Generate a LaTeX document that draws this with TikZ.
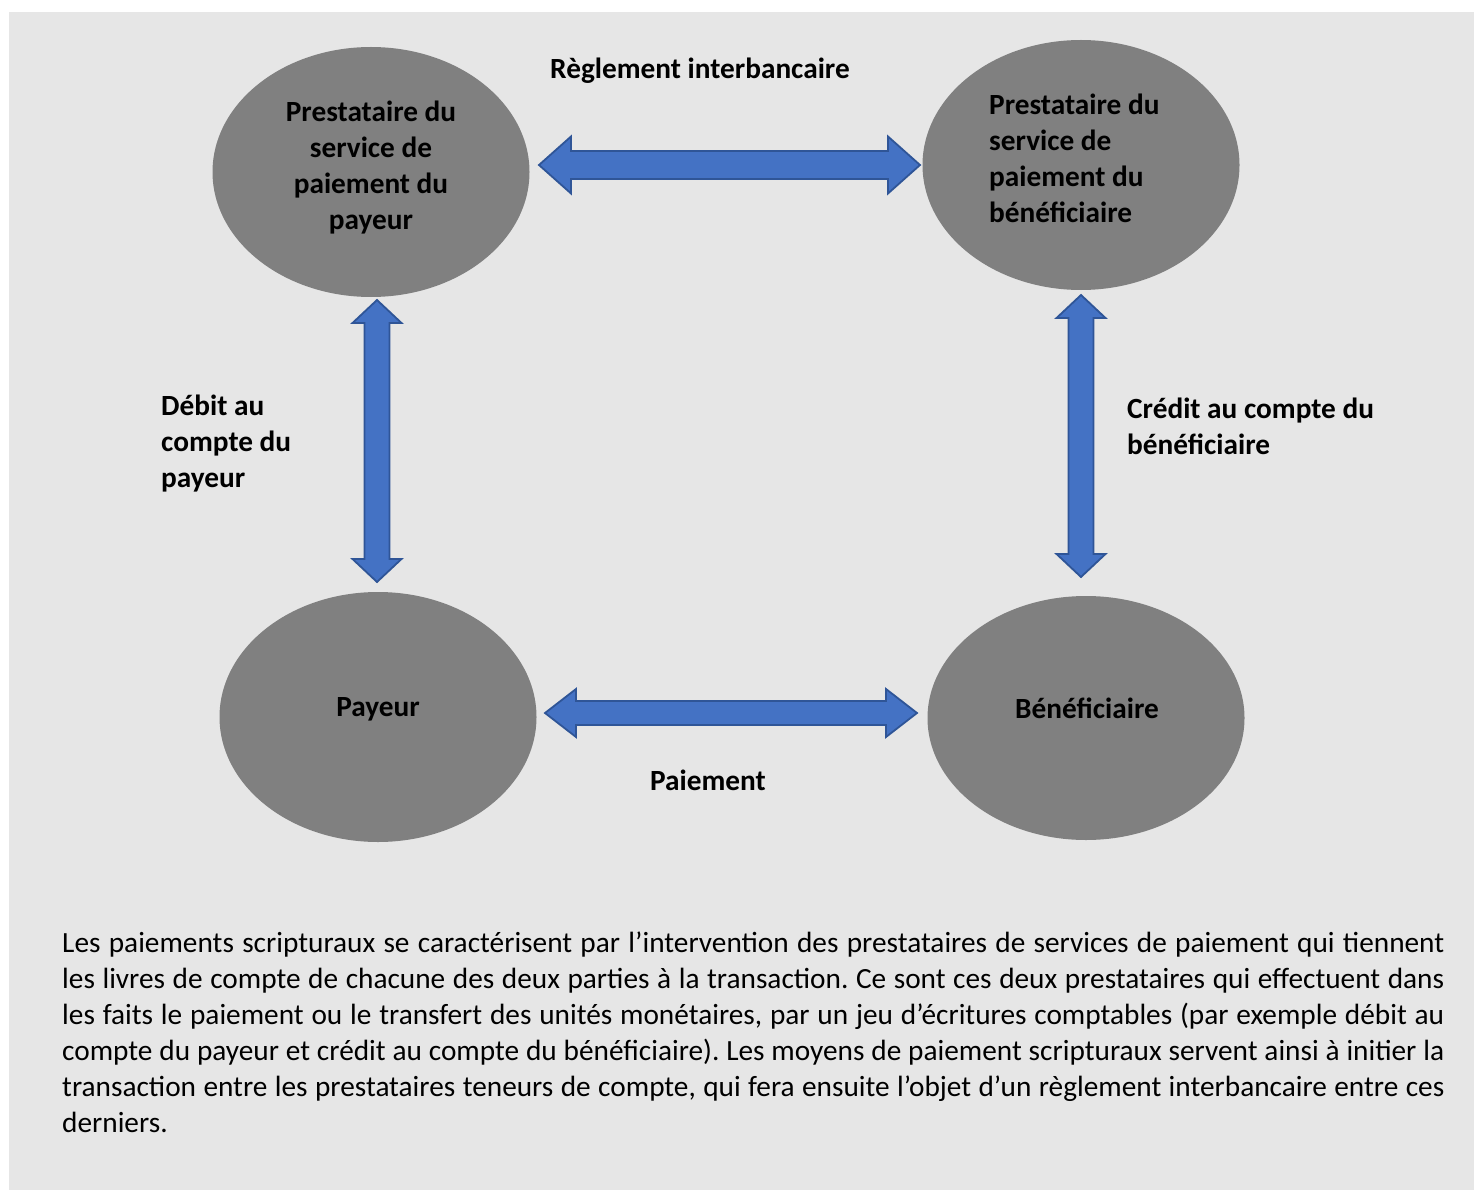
\documentclass[tikz,border=0pt]{standalone}
\usepackage{fontspec}
\setmainfont{Carlito}
\usetikzlibrary{shapes.geometric,calc}
\definecolor{bggray}{RGB}{230,230,230}
\definecolor{ellgray}{RGB}{128,128,128}
\definecolor{arrfill}{RGB}{68,114,196}
\definecolor{arrdraw}{RGB}{47,85,151}
\tikzset{
  actor/.style={ellipse, fill=ellgray, draw=none, inner sep=0pt, minimum width=317pt, minimum height=250pt},
  blockarr/.style={fill=arrfill, draw=arrdraw, line width=1.8pt, line join=miter},
  lbl/.style={font=\fontsize{29.3}{36}\selectfont\bfseries, inner sep=0pt, text=black},
  bodytext/.style={font=\fontsize{29.3}{36}\selectfont\frenchspacing, inner sep=0pt, text width=1382pt, align=justify, anchor=north west}
}
% horizontal double block arrow: #1 left tip, #2 right tip, #3 head length, #4 half head, #5 half shaft
\newcommand\hblockarrow[5]{%
  \draw[blockarr] (#1) -- ++(#3,-#4) -- ++(0,#4-#5) -- ($(#2)+(-#3,-#5)$) -- ++(0,#5-#4) -- (#2)
    -- ++(-#3,#4) -- ++(0,#5-#4) -- ($(#1)+(#3,#5)$) -- ++(0,#4-#5) -- cycle;}
% vertical double block arrow: #1 top tip, #2 bottom tip
\newcommand\vblockarrow[5]{%
  \draw[blockarr] (#1) -- ++(#4,#3) -- ++(#5-#4,0) -- ($(#2)+(#5,-#3)$) -- ++(#4-#5,0) -- (#2)
    -- ++(-#4,-#3) -- ++(#4-#5,0) -- ($(#1)+(-#5,#3)$) -- ++(#5-#4,0) -- cycle;}
\begin{document}
\begin{tikzpicture}[x=1pt,y=-1pt]
\useasboundingbox (0,0) rectangle (1474,1190);
\fill[white] (0,0) rectangle (1474,1190);
\fill[bggray] (9,12) rectangle (1474,1190);
% ellipses
\node[actor] (psp1) at (371,172) {};
\node[actor] (psp2) at (1081,165) {};
\node[actor] (payeur) at (378,717) {};
\node[actor, minimum height=244pt] (benef) at (1086,718) {};
% ellipse texts
\node[lbl, align=center] (t1) at (371,168) {Prestataire du\\service de\\paiement du\\payeur};
\node[lbl, align=left, anchor=west] (t2) at (989,158) {Prestataire du\\service de\\paiement du\\bénéficiaire};
\node[lbl] (t3) at (378,709) {Payeur};
\node[lbl] (t4) at (1087,708) {Bénéficiaire};
% arrows
\coordinate (ha) at (539,165);
\coordinate (hb) at (920,165);
\coordinate (pa) at (545,713);
\coordinate (pb) at (917,713);
\coordinate (va) at (377,300);
\coordinate (vb) at (377,582);
\coordinate (wa) at (1081,295);
\coordinate (wb) at (1081,577);
\hblockarrow{ha}{hb}{32}{28.5}{14}
\hblockarrow{pa}{pb}{31}{24}{12}
\vblockarrow{va}{vb}{23}{24.5}{12.5}
\vblockarrow{wa}{wb}{23}{24.5}{12.5}
% arrow labels
\node[lbl] (l1) at (700,71) {Règlement interbancaire};
\node[lbl, align=left, anchor=west] (l2) at (161,444) {Débit au\\compte du\\payeur};
\node[lbl, align=left, anchor=west] (l3) at (1127,426) {Crédit au compte du\\bénéficiaire};
\node[lbl] (l4) at (708,780) {Paiement};
% body text
\node[bodytext] (body) at (62,932) {Les paiements scripturaux se caractérisent par l’intervention des prestataires de services de paiement qui tiennent les livres de compte de chacune des deux parties à la transaction. Ce sont ces deux prestataires qui effectuent dans les faits le paiement ou le transfert des unités monétaires, par un jeu d’écritures comptables (par exemple débit au compte du payeur et crédit au compte du bénéficiaire). Les moyens de paiement scripturaux servent ainsi à initier la transaction entre les prestataires teneurs de compte, qui fera ensuite l’objet d’un règlement interbancaire entre ces derniers.};
\end{tikzpicture}
\end{document}
